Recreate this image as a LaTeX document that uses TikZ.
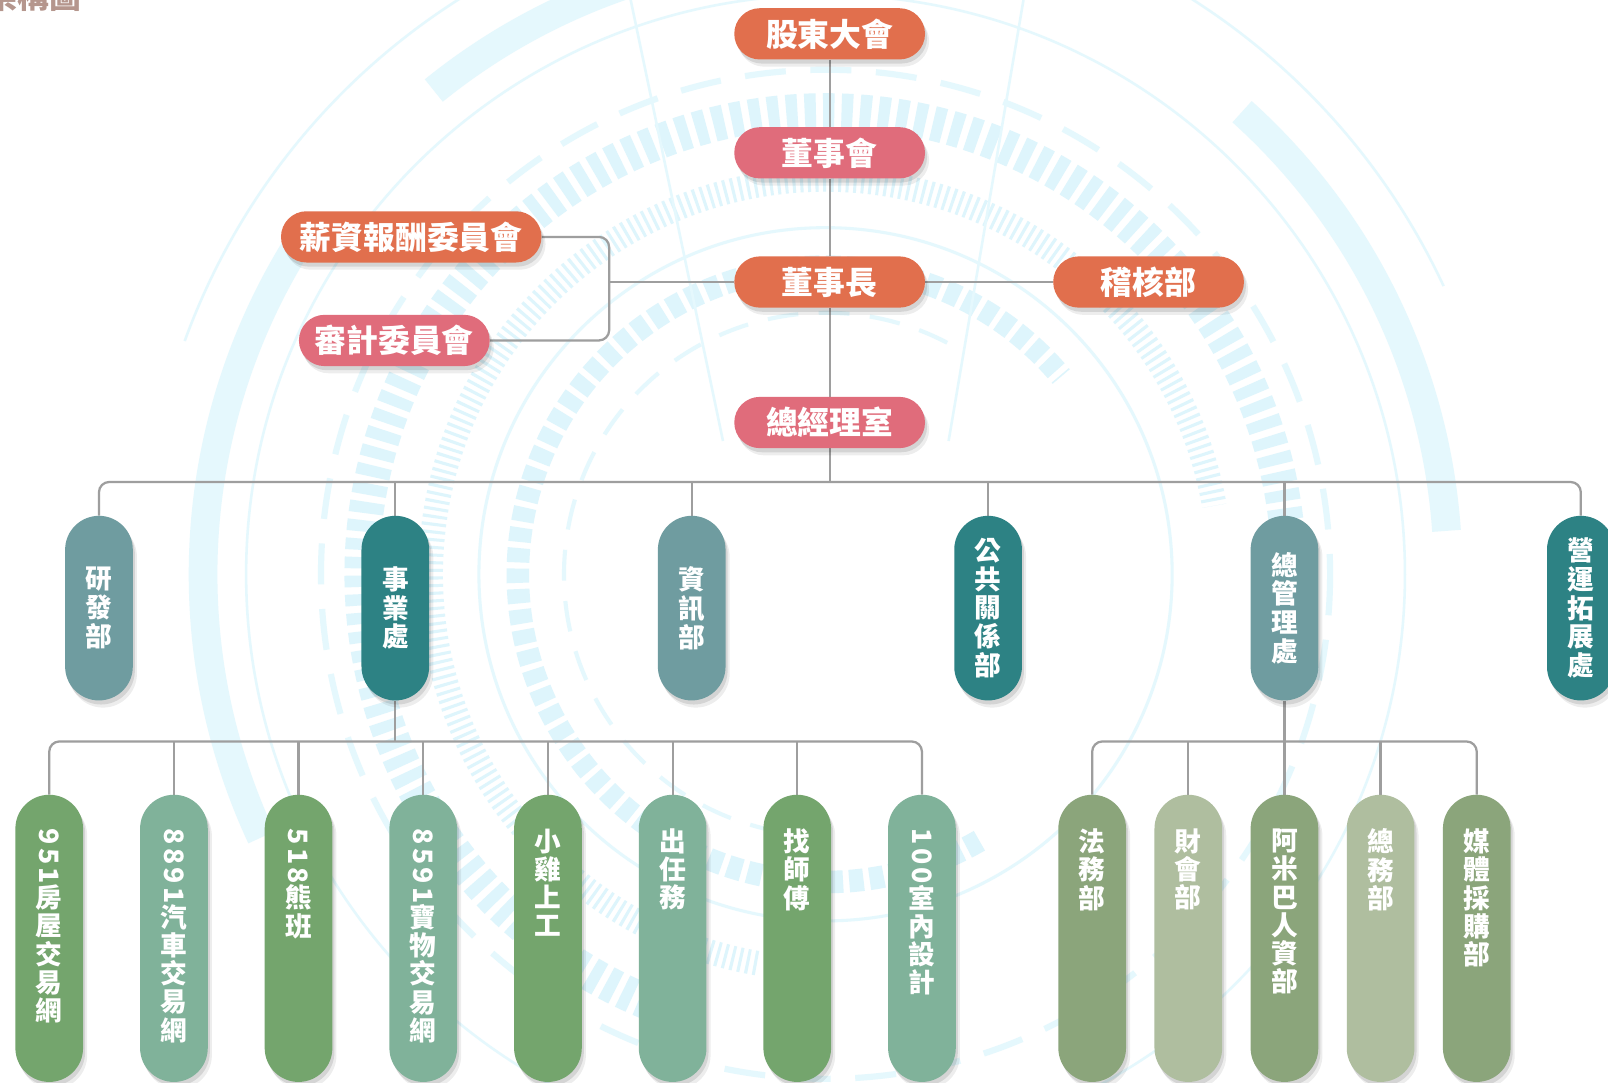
\documentclass[tikz,border=0pt]{standalone}
\usepackage{graphicx}
\usepackage{fontspec}
\setmainfont{Noto Sans CJK TC}
\usetikzlibrary{shadows}
\pgfdeclarelayer{bgl}
\pgfdeclarelayer{cnl}
\pgfsetlayers{bgl,cnl,main}
\definecolor{cOrange}{RGB}{225,111,77}
\definecolor{cPink}{RGB}{224,108,123}
\definecolor{cTealL}{RGB}{111,156,160}
\definecolor{cTealD}{RGB}{45,130,132}
\definecolor{cGrnA}{RGB}{116,165,109}
\definecolor{cGrnB}{RGB}{128,178,154}
\definecolor{cOlvA}{RGB}{139,165,123}
\definecolor{cOlvB}{RGB}{175,190,159}
\definecolor{cLine}{RGB}{158,158,158}
\definecolor{cBgA}{RGB}{229,248,253}
\definecolor{cBgB}{RGB}{222,245,252}
\definecolor{cTitle}{RGB}{181,150,141}
\newcommand\rn[1]{\raisebox{0.86em}{\rotatebox{-90}{\addfontfeature{LetterSpace=12}#1}}}
\tikzset{
  softshadow/.style={drop shadow={shadow xshift=2pt,shadow yshift=-4pt,opacity=0.10,fill=black},
                     drop shadow={shadow xshift=4pt,shadow yshift=-7pt,opacity=0.07,fill=black}},
  toppill/.style={rectangle, rounded corners=25pt, minimum height=50pt, inner sep=0pt,
     text=white, font=\bfseries\fontsize{31}{33}\selectfont, softshadow},
  midpill/.style={rectangle, rounded corners=33pt, minimum width=66pt, minimum height=180pt,
     inner sep=0pt, text=white, align=center, font=\bfseries\fontsize{26}{28}\selectfont, softshadow},
  lowpill/.style={rectangle, rounded corners=33pt, minimum width=66pt, minimum height=280pt,
     inner sep=0pt, softshadow},
  vtxt/.style={anchor=north, inner sep=0pt, text=white, align=center,
     font=\bfseries\fontsize{26}{27.5}\selectfont},
  conn/.style={draw=cLine, line width=2.2pt, rounded corners=10pt},
  bgthin/.style={draw=cBgA, line width=2.5pt},
}
\begin{document}
\begin{tikzpicture}[x=1pt, y=-1pt]
\useasboundingbox (0,0) rectangle (1568,1056);

% ---------- background decoration ----------
\begin{pgfonlayer}{bgl}
\fill[white] (0,0) rectangle (1568,1056);
\begin{scope}
\clip (0,0) rectangle (1568,1056);
\coordinate (ctr) at (805,560);
% thick outer band
\draw[draw=cBgA, line width=28pt] (ctr) ++(155:607) arc[start angle=155, end angle=213, radius=607];
\draw[draw=cBgA, line width=28pt] (ctr) ++(231:607) arc[start angle=231, end angle=258, radius=607];
\draw[draw=cBgA, line width=28pt] (ctr) ++(312:607) arc[start angle=312, end angle=356, radius=607];
% thin outer rings
\draw[bgthin] (ctr) ++(200:665) arc[start angle=200, end angle=335, radius=665];
\draw[bgthin] (ctr) circle[radius=565];
% dashed ring
\draw[draw=cBgA, line width=6pt, dash pattern=on 40pt off 24pt] (ctr) circle[radius=492];
% block ring
\draw[draw=cBgB, line width=34pt, dash pattern=on 11pt off 7pt] (ctr) ++(110:452) arc[start angle=110, end angle=360, radius=452];
% fine tick ring
\draw[draw=cBgB, line width=24pt, dash pattern=on 3pt off 4.5pt] (ctr) ++(100:385) arc[start angle=100, end angle=350, radius=385];
% inner rings
\draw[draw=cBgA, line width=3pt] (ctr) circle[radius=338];
\draw[draw=cBgB, line width=22pt, dash pattern=on 14pt off 6pt] (ctr) ++(60:300) arc[start angle=60, end angle=320, radius=300];
\draw[draw=cBgA, line width=4pt, dash pattern=on 30pt off 20pt] (ctr) ++(100:255) arc[start angle=100, end angle=300, radius=255];
% spokes
\draw[bgthin] (615,0) -- (705,430);
\draw[bgthin] (998,0) -- (925,430);
\end{scope}
\end{pgfonlayer}

% ---------- title fragment ----------
\node[anchor=base east, inner sep=0pt, text=cTitle, font=\bfseries\fontsize{31}{33}\selectfont] (title) at (79,8) {架構圖};

% ---------- top nodes ----------
\node[toppill, fill=cOrange, minimum width=186pt] (gsm) at (809,33) {股東大會};
\node[toppill, fill=cPink, minimum width=186pt] (brd) at (809,149) {董事會};
\node[toppill, fill=cOrange, minimum width=186pt] (chm) at (809,275) {董事長};
\node[toppill, fill=cOrange, minimum width=186pt] (aud) at (1120,275) {稽核部};
\node[toppill, fill=cOrange, minimum width=254pt] (sal) at (401,231) {薪資報酬委員會};
\node[toppill, fill=cPink, minimum width=186pt] (adc) at (384.5,332) {審計委員會};
\node[toppill, fill=cPink, minimum width=186pt] (gmo) at (809,412) {總經理室};

% ---------- level 2 ----------
\node[midpill, fill=cTealL] (d1) at (96.5,593) {研\\發\\部};
\node[midpill, fill=cTealD] (d2) at (385.5,593) {事\\業\\處};
\node[midpill, fill=cTealL] (d3) at (674.5,593) {資\\訊\\部};
\node[midpill, fill=cTealD] (d4) at (963.5,593) {公\\共\\關\\係\\部};
\node[midpill, fill=cTealL] (d5) at (1252.5,593) {總\\管\\理\\處};
\node[midpill, fill=cTealD] (d6) at (1541.5,593) {營\\運\\拓\\展\\處};

% ---------- level 3 (business) ----------
\node[lowpill, fill=cGrnA] (a1) at (48,915) {};
\node[lowpill, fill=cGrnB] (a2) at (169.6,915) {};
\node[lowpill, fill=cGrnA] (a3) at (291.1,915) {};
\node[lowpill, fill=cGrnB] (a4) at (412.7,915) {};
\node[lowpill, fill=cGrnA] (a5) at (534.3,915) {};
\node[lowpill, fill=cGrnB] (a6) at (655.9,915) {};
\node[lowpill, fill=cGrnA] (a7) at (777.4,915) {};
\node[lowpill, fill=cGrnB] (a8) at (899,915) {};
\node[vtxt] (ta1) at (48,808) {\rn{951}\\房\\屋\\交\\易\\網};
\node[vtxt] (ta2) at (169.6,808) {\rn{8891}\\汽\\車\\交\\易\\網};
\node[vtxt] (ta3) at (291.1,808) {\rn{518}\\熊\\班};
\node[vtxt] (ta4) at (412.7,808) {\rn{8591}\\寶\\物\\交\\易\\網};
\node[vtxt] (ta5) at (534.3,808) {小\\雞\\上\\工};
\node[vtxt] (ta6) at (655.9,808) {出\\任\\務};
\node[vtxt] (ta7) at (777.4,808) {找\\師\\傅};
\node[vtxt] (ta8) at (899,808) {\rn{100}\\室\\內\\設\\計};

% ---------- level 3 (management) ----------
\node[lowpill, fill=cOlvA] (b1) at (1065,915) {};
\node[lowpill, fill=cOlvB] (b2) at (1158.75,915) {};
\node[lowpill, fill=cOlvA] (b3) at (1252.5,915) {};
\node[lowpill, fill=cOlvB] (b4) at (1346.25,915) {};
\node[lowpill, fill=cOlvA] (b5) at (1440,915) {};
\node[vtxt] (tb1) at (1065,808) {法\\務\\部};
\node[vtxt] (tb2) at (1158.75,808) {財\\會\\部};
\node[vtxt] (tb3) at (1252.5,808) {阿\\米\\巴\\人\\資\\部};
\node[vtxt] (tb4) at (1346.25,808) {總\\務\\部};
\node[vtxt] (tb5) at (1440,808) {媒\\體\\採\\購\\部};

% ---------- connectors ----------
\begin{pgfonlayer}{cnl}
\draw[conn] (gsm.south) -- (brd.north);
\draw[conn] (brd.south) -- (chm.north);
\draw[conn] (chm.south) -- (gmo.north);
\coordinate (brk) at (594,275);
\draw[conn] (sal.east) -- (sal.east -| brk) -- (adc.east -| brk) -- (adc.east);
\draw[conn] (brk) -- (chm.west);
\draw[conn] (chm.east) -- (aud.west);
\coordinate (bus) at (809,470);
\draw[conn] (gmo.south) -- (bus);
\draw[conn] (d1.north) -- (d1.north |- bus) -- (d6.north |- bus) -- (d6.north);
\foreach \n in {d2,d3,d4,d5} \draw[conn] (\n.north) -- (\n.north |- bus);
\coordinate (busA) at (385.5,723);
\draw[conn] (d2.south) -- (busA);
\draw[conn] (a1.north) -- (a1.north |- busA) -- (a8.north |- busA) -- (a8.north);
\foreach \n in {a2,a3,a4,a5,a6,a7} \draw[conn] (\n.north) -- (\n.north |- busA);
\coordinate (busB) at (1252.5,723);
\draw[conn] (d5.south) -- (b3.north);
\draw[conn] (b1.north) -- (b1.north |- busB) -- (b5.north |- busB) -- (b5.north);
\foreach \n in {b2,b4} \draw[conn] (\n.north) -- (\n.north |- busB);
\end{pgfonlayer}
\end{tikzpicture}
\end{document}
